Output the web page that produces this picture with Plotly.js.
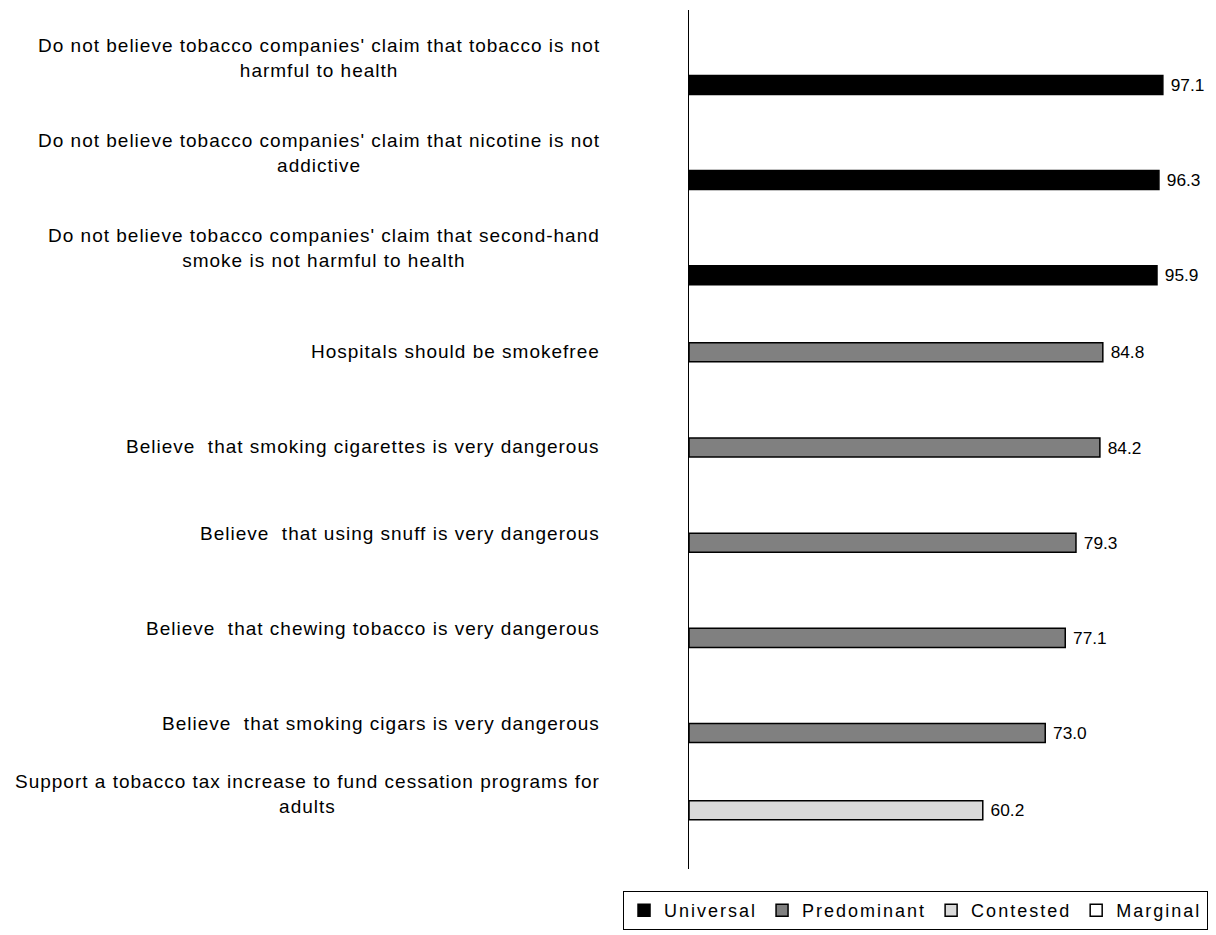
<!DOCTYPE html>
<html>
<head>
<meta charset="utf-8">
<script src="https://cdn.plot.ly/plotly-3.0.1.min.js"></script>
<style>
  html, body { margin: 0; padding: 0; background: #fff; }
  #chart { width: 1216px; height: 935px; }
  /* spaced-out lettering for category labels and legend */
  .annotation-text { letter-spacing: 1px; }
  .legendtext { letter-spacing: 2px; }
</style>
</head>
<body>
<div id="chart"></div>
<script>
// Statements shown top to bottom
const categories = [
  "Do not believe tobacco companies' claim that tobacco is not<br>harmful to health",
  "Do not believe tobacco companies' claim that nicotine is not<br>addictive",
  "Do not believe tobacco companies' claim that second-hand<br>smoke is not harmful to health",
  "Hospitals should be smokefree",
  "Believe\u00a0 that smoking cigarettes is very dangerous",
  "Believe\u00a0 that using snuff is very dangerous",
  "Believe\u00a0 that chewing tobacco is very dangerous",
  "Believe\u00a0 that smoking cigars is very dangerous",
  "Support a tobacco tax increase to fund cessation programs for<br>adults"
];

// Percent agreeing with each statement
const values = [97.1, 96.3, 95.9, 84.8, 84.2, 79.3, 77.1, 73.0, 60.2];

// Level of support each statement falls into
const tiers = ["Universal", "Universal", "Universal",
               "Predominant", "Predominant", "Predominant", "Predominant", "Predominant",
               "Contested"];

const tierNames = ["Universal", "Predominant", "Contested", "Marginal"];

// Look of each tier: fill colour and position of its slot inside the category band
const tierStyle = {
  Universal:   { fill: "#000000", offset: 0.187 },
  Predominant: { fill: "#808080", offset: -0.003 },
  Contested:   { fill: "#dadada", offset: -0.193 },
  Marginal:    { fill: "#ffffff", offset: -0.383 }
};

// Small vertical nudges (px) for individual category labels
const labelNudge = [0, 0, 0, -8, -8, 0, 0, 0, 25];

const font = "Liberation Sans, Arial, sans-serif";

const traces = tierNames.map(function (name) {
  const xs = values.map(function (v, i) { return tiers[i] === name ? v : null; });
  return {
    type: "bar",
    orientation: "h",
    name: name,
    y: categories,
    x: xs,
    width: 0.2,
    offset: tierStyle[name].offset,
    marker: { color: tierStyle[name].fill, line: { color: "#000000", width: 1.5 } },
    text: xs.map(function (v) { return v === null ? "" : "\u00a0" + v.toFixed(1); }),
    textposition: "outside",
    textfont: { family: font, size: 20, color: "#000000" },
    cliponaxis: false,
    hoverinfo: "skip"
  };
});

// Category labels: centred lines, block right-aligned left of the axis
const labelNotes = categories.map(function (c, i) {
  return {
    text: c,
    xref: "paper", x: 0, xanchor: "right", xshift: -87,
    yref: "y", y: c, yanchor: "middle", yshift: labelNudge[i],
    align: "center",
    showarrow: false,
    font: { family: font, size: 19, color: "#000000" }
  };
});

const layout = {
  width: 1216,
  height: 935,
  margin: { l: 689, r: 39, t: 10, b: 66 },
  paper_bgcolor: "#ffffff",
  plot_bgcolor: "#ffffff",
  barmode: "overlay",
  showlegend: true,
  xaxis: {
    range: [0, 100],
    visible: false,
    fixedrange: true
  },
  yaxis: {
    type: "category",
    categoryorder: "array",
    categoryarray: categories,
    autorange: "reversed",
    showticklabels: false,
    ticks: "",
    showgrid: false,
    zeroline: false,
    showline: true,
    linecolor: "#000000",
    linewidth: 1.5,
    fixedrange: true
  },
  legend: {
    orientation: "h",
    xref: "paper",
    x: -0.1352, xanchor: "left",
    yref: "container",
    y: 0.047, yanchor: "top",
    bordercolor: "#000000",
    borderwidth: 1,
    bgcolor: "#ffffff",
    font: { family: font, size: 18, color: "#000000" },
    itemwidth: 30,
    traceorder: "normal"
  },
  annotations: labelNotes
};

Plotly.newPlot("chart", traces, layout, { displayModeBar: false, staticPlot: true });
</script>
</body>
</html>
